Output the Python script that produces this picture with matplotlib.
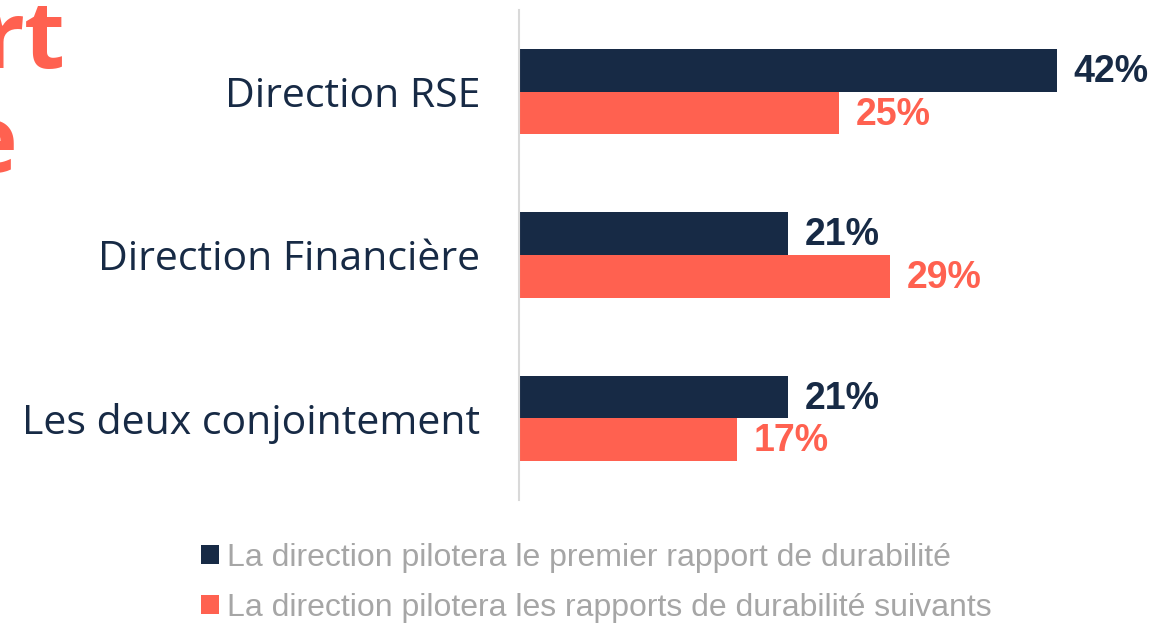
import matplotlib
matplotlib.use("Agg")
import matplotlib.pyplot as plt
import numpy as np

categories = ["Direction RSE", "Direction Financière", "Les deux conjointement"]
premier = [42, 21, 21]
suivants = [25, 29, 17]
series_labels = ["La direction pilotera le premier rapport de durabilité",
                 "La direction pilotera les rapports de durabilité suivants"]

NAVY = "#172A45"
ORANGE = "#FF6150"
GREY = "#A6A6A6"

fig = plt.figure(figsize=(11.73, 6.23), dpi=100)
ax = fig.add_axes([519/1173, (623-500)/623, 640/1173, 490/623])

y = np.arange(len(categories))
h = 0.262
b1 = ax.barh(y - h/2, premier, height=h, color=NAVY, label=series_labels[0])
b2 = ax.barh(y + h/2, suivants, height=h, color=ORANGE, label=series_labels[1])

for bars, vals, col in [(b1, premier, NAVY), (b2, suivants, ORANGE)]:
    for rect, v in zip(bars, vals):
        ax.text(rect.get_width() + 1.3, rect.get_y() + rect.get_height()/2 + 0.01,
                f"{v}%", va="center", ha="left", color=col, fontsize=27,
                fontweight="bold", family="Liberation Sans")

ax.set_ylim(2.5, -0.5)
ax.set_xlim(0, 50)
ax.set_yticks(y)
ax.set_yticklabels(categories, fontsize=29.5, color=NAVY, family="Open Sans")
ax.tick_params(axis="y", length=0, pad=28)
ax.set_xticks([])
for s in ["top", "right", "bottom"]:
    ax.spines[s].set_visible(False)
ax.spines["left"].set_color("#D9D9D9")
ax.spines["left"].set_linewidth(1.5)

leg = fig.legend(handles=[b1, b2], labels=series_labels, loc="upper left",
                 bbox_to_anchor=(201/1173, 1 - 543/623), frameon=False,
                 borderpad=0, borderaxespad=0,
                 handlelength=0.55, handleheight=0.55, handletextpad=0.25,
                 labelspacing=0.63,
                 prop={"family": "Liberation Sans", "size": 23})
for t in leg.get_texts():
    t.set_color(GREY)

# Cropped title fragments in the top-left corner
fig.text(66/1173, 1 - 68/623, "rt", ha="right", va="baseline", color=ORANGE,
         fontsize=68, fontweight="bold", family="Open Sans")
fig.text(17/1173, 1 - 172/623, "e", ha="right", va="baseline", color=ORANGE,
         fontsize=68, fontweight="bold", family="Open Sans")

fig.savefig("out.png", dpi=100)
